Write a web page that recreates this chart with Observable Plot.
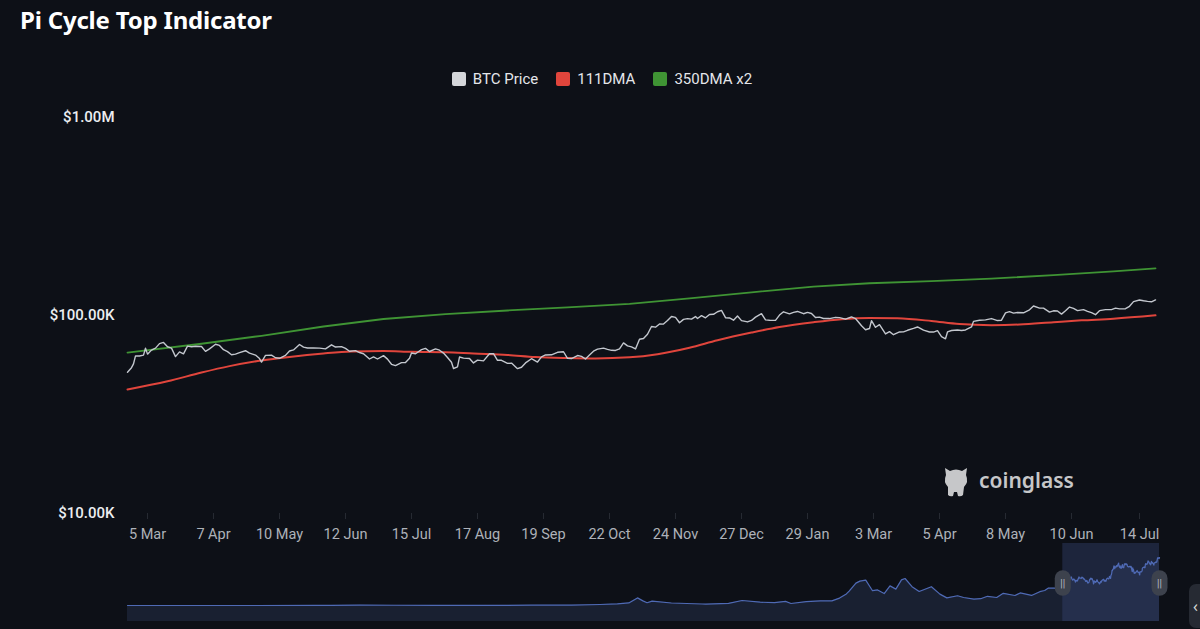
<!DOCTYPE html>
<html><head><meta charset="utf-8">
<script src="https://cdn.jsdelivr.net/npm/d3@7"></script>
<script src="https://cdn.jsdelivr.net/npm/@observablehq/plot@0.6"></script>
<style>
html,body{margin:0;padding:0;background:#0d1017;width:1200px;height:629px;overflow:hidden;font-family:"Noto Sans",sans-serif;}
#title{position:absolute;left:20px;top:3px;color:#fff;font-size:24px;font-weight:700;letter-spacing:-0.2px;}
#legend{position:absolute;left:2px;width:1200px;top:70px;display:flex;justify-content:center;gap:18px;font-family:Roboto,sans-serif;font-size:15px;color:#e4e6ea;}
#legend .it{display:flex;align-items:center;gap:7px;}
#legend .sw{width:14px;height:14px;border-radius:2px;display:inline-block;}
#main{position:absolute;left:0;top:100px;}
#nav{position:absolute;left:0;top:543px;}
#wm{position:absolute;left:941px;top:462px;display:flex;align-items:center;gap:8px;color:#c6c7c9;font-family:"Noto Sans",sans-serif;font-weight:600;font-size:21px;}
#btn{position:absolute;left:1189px;top:584px;width:30px;height:44px;border-radius:7px;background:#262a33;color:#d8d8d8;font-size:16px;line-height:44px;padding-left:4px;box-sizing:border-box;}
</style></head><body>
<div id="title">Pi Cycle Top Indicator</div>
<div id="legend"></div>
<div id="main"></div>
<div id="nav"></div>
<div id="wm"><svg width="30" height="36" viewBox="0 0 30 36"><path d="M4 6 L9 9 Q15 6 21 9 L26 6 L25 13 Q28 20 23 25 L22 33 Q20 35 17 34 L16 30 L13 30 L12 34 Q9 35 7 33 L7 25 Q2 20 5 13 Z" fill="#c6c7c9"/></svg><span>coinglass</span></div>
<div id="btn">‹</div>
<script>
// ---- Series names / colours ----
const seriesNames = ["BTC Price", "111DMA", "350DMA x2"];
const seriesColors = ["#d4d6da", "#e0453c", "#3f9434"];

// ---- BTC price (USD) ----
const btcDates = ["2024-02-24","2024-02-26","2024-02-27","2024-02-28","2024-03-01","2024-03-03","2024-03-04","2024-03-05","2024-03-07","2024-03-09","2024-03-11","2024-03-13","2024-03-15","2024-03-17","2024-03-19","2024-03-21","2024-03-23","2024-03-25","2024-03-27","2024-03-29","2024-04-01","2024-04-03","2024-04-05","2024-04-08","2024-04-10","2024-04-12","2024-04-14","2024-04-16","2024-04-18","2024-04-20","2024-04-23","2024-04-25","2024-04-28","2024-04-30","2024-05-01","2024-05-03","2024-05-06","2024-05-08","2024-05-10","2024-05-13","2024-05-15","2024-05-17","2024-05-20","2024-05-22","2024-05-24","2024-05-27","2024-05-30","2024-06-02","2024-06-05","2024-06-07","2024-06-10","2024-06-12","2024-06-14","2024-06-17","2024-06-19","2024-06-21","2024-06-24","2024-06-26","2024-06-28","2024-07-01","2024-07-03","2024-07-05","2024-07-07","2024-07-10","2024-07-12","2024-07-14","2024-07-15","2024-07-17","2024-07-20","2024-07-22","2024-07-24","2024-07-27","2024-07-29","2024-07-31","2024-08-02","2024-08-04","2024-08-05","2024-08-07","2024-08-08","2024-08-10","2024-08-13","2024-08-15","2024-08-17","2024-08-20","2024-08-23","2024-08-25","2024-08-27","2024-08-29","2024-09-01","2024-09-03","2024-09-06","2024-09-08","2024-09-10","2024-09-13","2024-09-16","2024-09-18","2024-09-20","2024-09-23","2024-09-26","2024-09-29","2024-10-01","2024-10-03","2024-10-06","2024-10-08","2024-10-10","2024-10-12","2024-10-14","2024-10-16","2024-10-19","2024-10-21","2024-10-23","2024-10-25","2024-10-27","2024-10-29","2024-10-31","2024-11-02","2024-11-04","2024-11-06","2024-11-08","2024-11-10","2024-11-12","2024-11-14","2024-11-16","2024-11-18","2024-11-20","2024-11-22","2024-11-24","2024-11-26","2024-11-28","2024-11-30","2024-12-02","2024-12-04","2024-12-05","2024-12-07","2024-12-09","2024-12-11","2024-12-13","2024-12-15","2024-12-17","2024-12-19","2024-12-21","2024-12-23","2024-12-25","2024-12-27","2024-12-30","2025-01-01","2025-01-03","2025-01-06","2025-01-08","2025-01-10","2025-01-13","2025-01-15","2025-01-17","2025-01-20","2025-01-22","2025-01-24","2025-01-27","2025-01-29","2025-01-31","2025-02-02","2025-02-04","2025-02-06","2025-02-09","2025-02-12","2025-02-14","2025-02-17","2025-02-20","2025-02-22","2025-02-25","2025-02-27","2025-03-01","2025-03-02","2025-03-04","2025-03-06","2025-03-09","2025-03-11","2025-03-13","2025-03-16","2025-03-18","2025-03-20","2025-03-23","2025-03-25","2025-03-28","2025-03-31","2025-04-02","2025-04-04","2025-04-06","2025-04-08","2025-04-09","2025-04-11","2025-04-14","2025-04-16","2025-04-18","2025-04-21","2025-04-22","2025-04-25","2025-04-28","2025-05-01","2025-05-04","2025-05-06","2025-05-08","2025-05-10","2025-05-12","2025-05-14","2025-05-17","2025-05-20","2025-05-22","2025-05-25","2025-05-27","2025-05-30","2025-06-01","2025-06-03","2025-06-05","2025-06-07","2025-06-09","2025-06-11","2025-06-13","2025-06-16","2025-06-18","2025-06-20","2025-06-22","2025-06-24","2025-06-27","2025-06-30","2025-07-02","2025-07-04","2025-07-07","2025-07-09","2025-07-11","2025-07-14","2025-07-16","2025-07-18","2025-07-20","2025-07-22"];
const btcPrice = [51700,54500,57000,62500,62400,63100,68300,63800,66900,68400,72100,73100,69500,68400,62000,65500,64000,70000,69500,69900,69700,65900,67800,71600,70600,67200,65700,63400,63800,64900,66400,64500,63100,60600,58200,62900,63100,61200,60800,62900,66200,67000,71400,69200,68500,68500,68400,67800,71100,69300,69600,68200,66000,66500,65000,64100,60300,61800,60300,62700,60200,56700,55800,57800,57900,60800,64700,64100,67200,68200,65800,67800,66800,64600,61400,58100,54000,55000,61700,60900,60600,57600,59500,59000,64100,64200,59400,59400,57300,57500,53900,54800,57600,60500,58200,61800,63200,63300,65200,65600,60800,60600,62800,62200,60300,63200,66000,67600,68400,67400,66700,66600,67900,72700,70200,69400,67800,75900,76500,80400,88000,87300,90600,90500,94300,98900,97900,91900,95600,96400,95900,98800,96600,99900,97400,101200,101400,104500,106100,97500,97200,94700,99400,94200,92800,94400,98100,102100,95000,94700,94500,100500,104400,102000,103700,104800,102100,103700,102400,97700,98100,96600,96500,97900,97500,95800,98300,96500,88700,84700,86000,94200,87200,89900,80700,82900,80000,82600,82700,84200,86100,87500,84300,82500,82500,83800,78200,76300,82600,84000,84500,84000,84500,87500,93400,94600,95000,96500,94300,94700,103000,104600,102800,103500,103200,106800,111700,109000,108900,104000,105600,105400,101600,105600,110300,108600,105900,107100,104900,103300,100900,105800,107100,107100,108900,108000,108200,111300,117500,119800,118700,117900,117300,119900];

// ---- 111-day moving average (USD) ----
const dma111Dates = ["2024-02-24","2024-03-15","2024-04-01","2024-04-15","2024-05-01","2024-05-15","2024-06-01","2024-06-15","2024-07-01","2024-07-15","2024-08-01","2024-08-15","2024-09-01","2024-09-15","2024-10-01","2024-10-15","2024-11-01","2024-11-15","2024-12-01","2024-12-15","2025-01-01","2025-01-15","2025-02-01","2025-02-15","2025-03-01","2025-03-15","2025-04-01","2025-04-15","2025-05-01","2025-05-15","2025-06-01","2025-06-15","2025-07-01","2025-07-22"];
const dma111 = [42300,46500,51500,55500,59300,61800,64300,65800,66200,65600,65300,64300,63200,61700,61000,60700,61500,63800,68800,75000,82000,87500,92500,95800,97200,96800,93800,90500,89400,90000,92500,94500,96300,100200];

// ---- 350-day MA x2 (USD) ----
const dma350x2Dates = ["2024-02-24","2024-04-01","2024-05-01","2024-06-01","2024-07-01","2024-08-01","2024-09-01","2024-10-01","2024-11-01","2024-12-01","2025-01-01","2025-02-01","2025-03-01","2025-04-01","2025-05-01","2025-06-01","2025-07-01","2025-07-22"];
const dma350x2 = [65000,72000,79000,88000,96000,101500,106000,110000,114500,122000,131000,140000,145500,149000,153500,160000,167000,173000];

// ---- Axis ticks ----
const xTickDates = ["2024-03-05","2024-04-07","2024-05-10","2024-06-12","2024-07-15","2024-08-17","2024-09-19","2024-10-22","2024-11-24","2024-12-27","2025-01-29","2025-03-03","2025-04-05","2025-05-08","2025-06-10","2025-07-14"];
const yTicks = [10000, 100000, 1000000];
const yTickLabels = ["$10.00K", "$100.00K", "$1.00M"];

// ---- Full-history BTC price for the navigator (USD), before the main window ----
const histDates = ["2010-07-17","2011-06-08","2012-06-01","2013-04-09","2013-07-01","2013-12-01","2014-06-01","2015-01-14","2015-06-01","2016-06-01","2017-01-01","2017-06-01","2017-09-01","2017-11-01","2017-12-17","2018-01-15","2018-02-06","2018-03-05","2018-06-15","2018-11-25","2018-12-15","2019-04-15","2019-06-26","2019-09-30","2019-12-15","2020-02-12","2020-03-12","2020-06-01","2020-08-15","2020-10-15","2020-11-25","2020-12-31","2021-01-15","2021-02-20","2021-03-13","2021-04-13","2021-05-19","2021-06-15","2021-07-20","2021-08-20","2021-09-20","2021-10-20","2021-11-08","2021-12-15","2022-01-22","2022-03-28","2022-05-12","2022-06-18","2022-08-14","2022-09-15","2022-11-09","2022-12-15","2023-01-20","2023-03-10","2023-04-14","2023-06-15","2023-07-13","2023-09-11","2023-10-25","2023-11-20","2023-12-10","2024-01-12","2024-01-23","2024-02-15"];
const histPrice = [50,30,6,200,90,1100,600,180,250,700,1000,2500,4300,6500,19000,11500,7000,11000,6300,3800,3300,5200,12500,8300,7100,10300,5000,9500,11800,11500,18500,29000,36000,56000,61000,63500,37000,39000,29800,49000,41000,64000,67500,47000,35000,47000,28500,19000,24400,20000,16000,17000,23000,20000,30500,25000,31400,25100,34500,37500,43800,43500,39800,52000];

const parse = d3.utcParse("%Y-%m-%d");
const btc = btcDates.map((d, i) => ({date: parse(d), value: btcPrice[i]}));
const red = dma111Dates.map((d, i) => ({date: parse(d), value: dma111[i]}));
const green = dma350x2Dates.map((d, i) => ({date: parse(d), value: dma350x2[i]}));
const navData = histDates.map((d, i) => ({date: parse(d), value: histPrice[i]})).concat(btc);
const xStart = btc[0].date, xEnd = btc[btc.length - 1].date;

// Legend
const leg = document.getElementById("legend");
seriesNames.forEach((n, i) => {
  const it = document.createElement("div"); it.className = "it";
  it.innerHTML = `<span class="sw" style="background:${seriesColors[i]}"></span><span>${n}</span>`;
  leg.appendChild(it);
});

const main = Plot.plot({
  width: 1200, height: 450,
  marginTop: 17, marginBottom: 37, marginLeft: 127, marginRight: 45,
  style: {background: "transparent", fontFamily: "Roboto, sans-serif"},
  x: {type: "utc", domain: [xStart, xEnd]},
  y: {type: "log", domain: [10000, 1000000]},
  marks: [
    Plot.axisX({ticks: xTickDates.map(parse), tickFormat: d3.utcFormat("%-d %b"), tickSize: 6, tickPadding: 9,
      stroke: "#262a32", fill: "#aeb2b9", fontSize: 14.5, label: null}),
    Plot.axisY({ticks: yTicks, tickFormat: d => yTickLabels[yTicks.indexOf(d)], tickSize: 0, tickPadding: 13,
      fill: "#eceef1", fontSize: 15, fontWeight: 500, label: null}),
    Plot.lineY(green, {x: "date", y: "value", stroke: seriesColors[2], strokeWidth: 1.8}),
    Plot.lineY(red, {x: "date", y: "value", stroke: seriesColors[1], strokeWidth: 2, curve: "monotone-x"}),
    Plot.lineY(btc, {x: "date", y: "value", stroke: "#c3c7ce", strokeWidth: 1.4})
  ]
});
document.getElementById("main").appendChild(main);

const navLo = -40000, navHi = 155000;
const nav = Plot.plot({
  width: 1200, height: 78,
  marginTop: 0, marginBottom: 0, marginLeft: 127, marginRight: 41,
  style: {background: "transparent", fontFamily: "Roboto, sans-serif"},
  x: {type: "utc", domain: [navData[0].date, xEnd], axis: null},
  y: {domain: [navLo, navHi], axis: null},
  marks: [
    Plot.areaY(navData, {x: "date", y1: () => navLo, y2: "value", fill: "#192031"}),
    Plot.rect([{a: xStart, b: xEnd}], {x1: "a", x2: "b", y1: () => navLo, y2: () => navHi, fill: "#3b4d80", fillOpacity: 0.35}),
    Plot.lineY(navData, {x: "date", y: "value", stroke: "#4f6ab5", strokeWidth: 1.2}),
    Plot.ruleX([xStart, xEnd], {y1: () => 43000, y2: () => 67000, stroke: "#3d424d", strokeWidth: 16, strokeLinecap: "round"}),
    Plot.text([xStart, xEnd], {x: d => d, y: () => 55000, text: () => "||", fill: "#b9bdc6", fontSize: 10})
  ]
});
document.getElementById("nav").appendChild(nav);
</script>
</body></html>
